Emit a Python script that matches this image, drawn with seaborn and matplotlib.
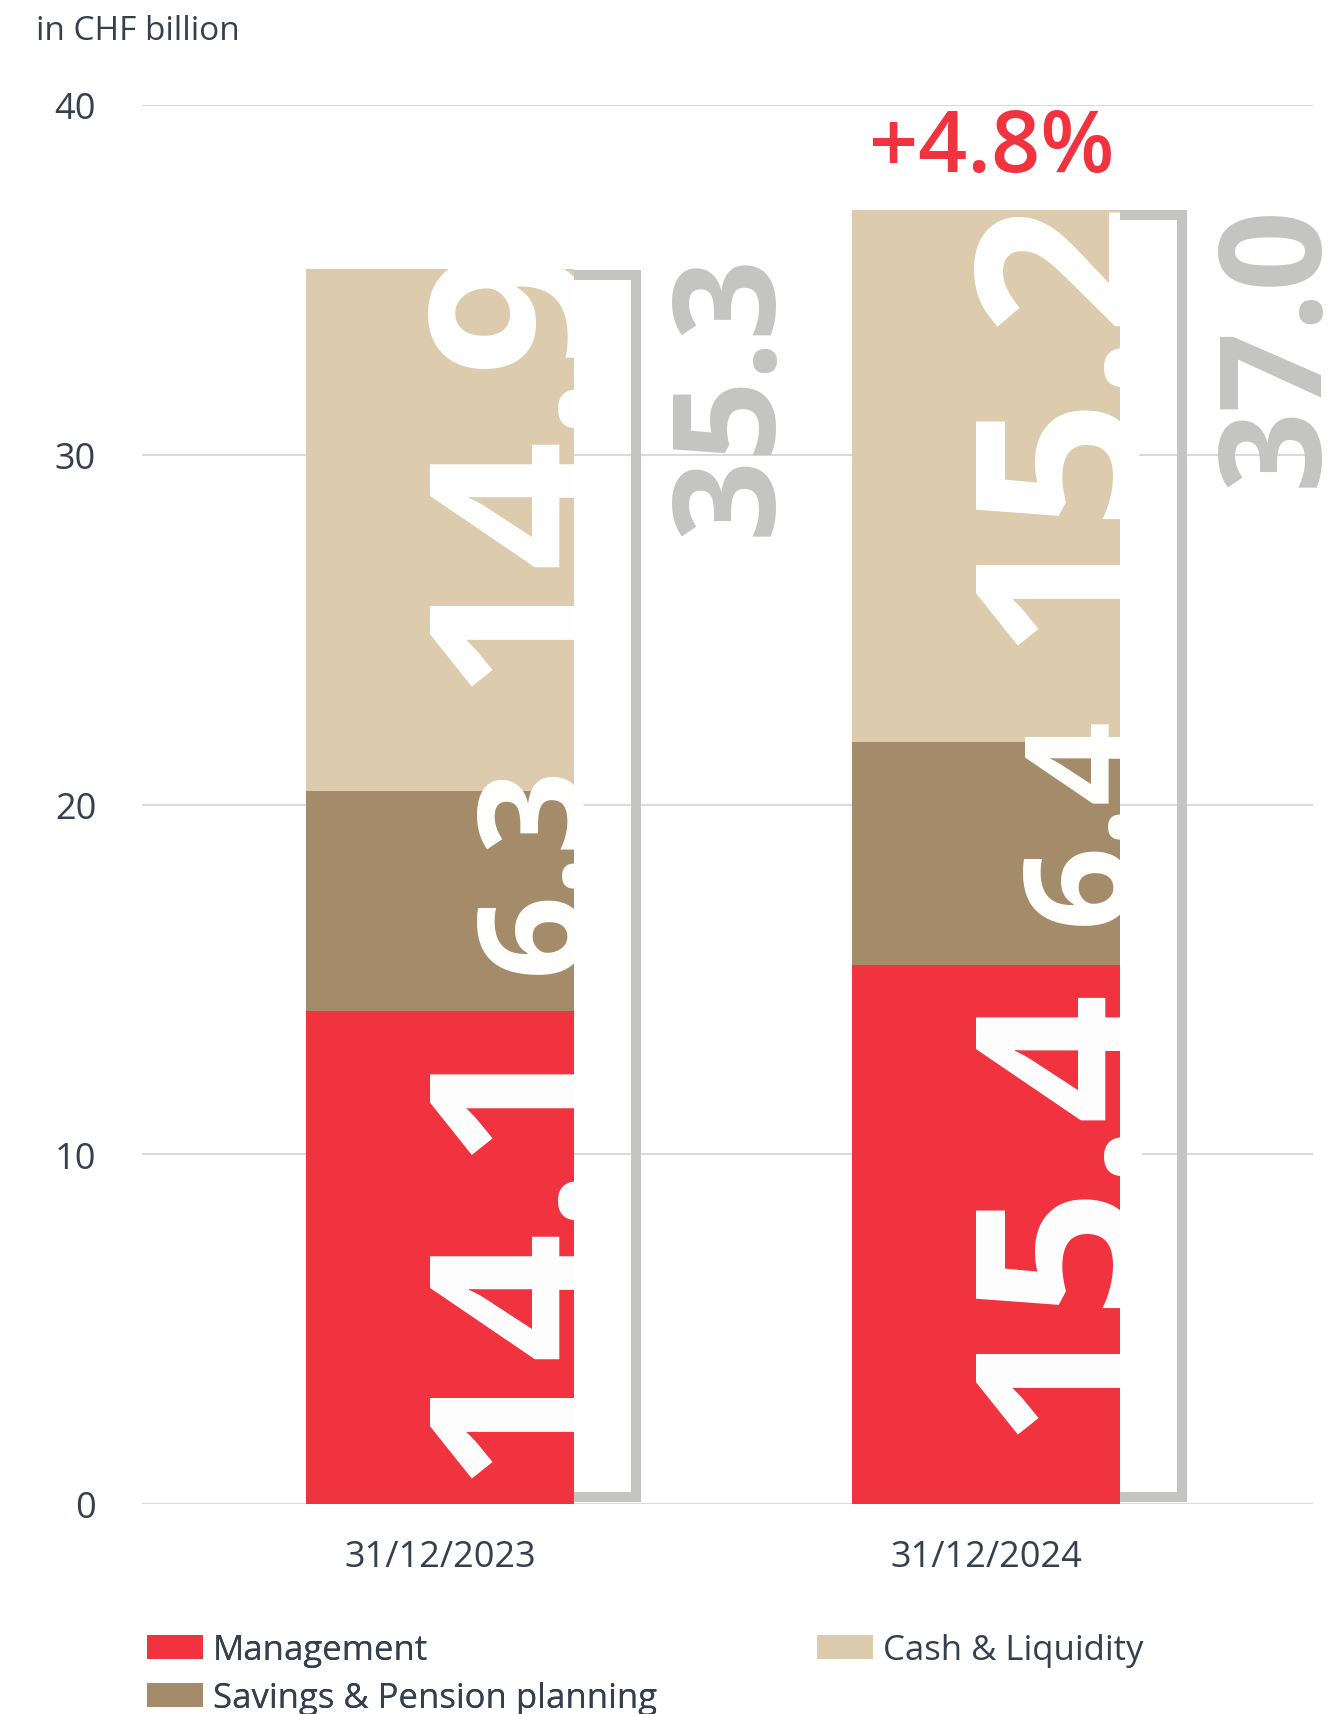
import matplotlib
matplotlib.use("Agg")
import matplotlib.pyplot as plt
import matplotlib.patches as mpatches
import seaborn as sns
import pandas as pd
import numpy as np

# ---------------- data ----------------
periods = ["31/12/2023", "31/12/2024"]
categories = ["Management", "Savings & Pension planning", "Cash & Liquidity"]
management = [14.1, 15.4]
savings = [6.3, 6.4]
cash = [14.9, 15.2]
totals = [35.3, 37.0]
growth_label = "+4.8%"
y_ticks = [0, 10, 20, 30, 40]
unit_label = "in CHF billion"

# ---------------- style ----------------
RED = "#f0333f"
TAN = "#a48c6a"
BEIGE = "#ddcbae"
GREY = "#c4c4c2"
GRID = "#dadada"
TXT = "#34404e"
FONT = ["Open Sans", "Noto Sans", "DejaVu Sans"]

sns.set_theme(style="white")
plt.rcParams["font.family"] = FONT

fig = plt.figure(figsize=(13.38, 17.15), dpi=100)
ax = fig.add_axes([142 / 1338, 1 - 1505 / 1715, (1313 - 142) / 1338, (1505 - 106) / 1715])

df = pd.DataFrame({"period": periods, "Management": management,
                   "Savings & Pension planning": savings, "Cash & Liquidity": cash})
df["top_m"] = df["Management"]
df["top_s"] = df["top_m"] + df["Savings & Pension planning"]
df["top_c"] = df["top_s"] + df["Cash & Liquidity"]
bottoms = {"Management": np.zeros(len(periods)),
           "Savings & Pension planning": df["top_m"].to_numpy(),
           "Cash & Liquidity": df["top_s"].to_numpy()}

W = 0.49
for col, color in [("top_c", BEIGE), ("top_s", TAN), ("top_m", RED)]:
    sns.barplot(data=df, x="period", y=col, color=color, saturation=1,
                width=W, linewidth=0, ax=ax, zorder=2)

ax.set_xlim(-0.546, 1.599)
ax.set_ylim(0, 40)
ax.set_yticks(y_ticks)
ax.yaxis.grid(True, color=GRID, linewidth=1.5, zorder=0)
ax.xaxis.grid(False)
ax.set_axisbelow(True)
for s in ax.spines.values():
    s.set_visible(False)
ax.set_xlabel("")
ax.set_ylabel("")
ax.tick_params(axis="x", length=0, pad=25, labelsize=26, labelcolor=TXT)
ax.tick_params(axis="y", length=0, pad=33, labelsize=26, labelcolor=TXT)

# inner white labels (rotated), starting a little above each segment bottom
label_shift = {"Management": [0.78, 2.03],
               "Savings & Pension planning": [1.07, 1.18],
               "Cash & Liquidity": [3.03, 2.78]}
label_size = {"Management": 164, "Savings & Pension planning": 106, "Cash & Liquidity": 164}
for i in range(len(periods)):
    xr = i + W / 2 + 0.012
    for cat in categories:
        val = df.loc[i, cat]
        ystart = bottoms[cat][i] + label_shift[cat][i]
        ax.text(xr, ystart, f"{val:.1f}", rotation=90, rotation_mode="anchor",
                ha="left", va="baseline", color="white", fontsize=label_size[cat],
                fontweight="bold", zorder=3)

# brackets and totals
hl = 0.15
total_shift = [0.5, 0.2]
for i in range(len(periods)):
    x0 = i + W / 2
    x1 = x0 + 0.1136
    t = totals[i]
    ax.plot([x0, x1, x1, x0], [t - hl, t - hl, 0.2, 0.2], color=GREY,
            linewidth=7.2, solid_joinstyle="miter", solid_capstyle="butt",
            zorder=4, clip_on=False)
    ax.text(x0 + 0.36, t + total_shift[i], f"{t:.1f}", rotation=90, rotation_mode="anchor",
            ha="right", va="baseline", color=GREY, fontsize=102,
            fontweight="bold", zorder=4)

ax.text(1.01, 38.1, growth_label, ha="center", va="baseline", color=RED,
        fontsize=62, fontweight="semibold", zorder=5)

fig.text(36 / 1338, 1 - 40 / 1715, unit_label, ha="left", va="baseline",
         fontsize=24, color=TXT)

# legend
handles = [mpatches.Patch(color=c, linewidth=0) for c in (RED, TAN, BEIGE)]
common = dict(frameon=False, fontsize=25, handlelength=1.61, handleheight=0.69,
              handletextpad=0.29, labelspacing=0.4, borderpad=0, borderaxespad=0,
              loc="upper left", labelcolor=TXT)
leg1 = fig.legend(handles[:2], categories[:2],
                  bbox_to_anchor=(147 / 1338, 1 - 1634 / 1715), **common)
fig.legend(handles[2:], categories[2:],
           bbox_to_anchor=(817 / 1338, 1 - 1634 / 1715), **common)
fig.add_artist(leg1)

fig.savefig("out.png", dpi=100)
